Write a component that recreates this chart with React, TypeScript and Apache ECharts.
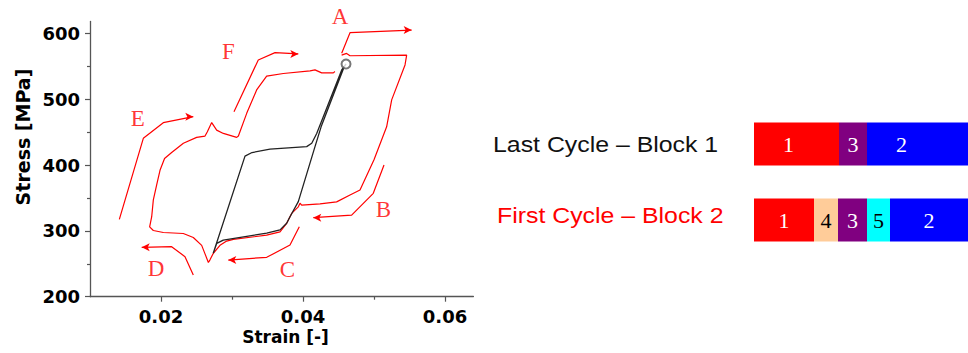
import React, { useEffect, useRef } from 'react';
import * as echarts from 'echarts';

// Axis ranges and tick values
const strainRange = [0.01, 0.064];
const stressRange = [200, 618];
const strainTicks = [0.02, 0.04, 0.06];
const strainMinorTicks = [0.03, 0.05];
const stressTicks = [200, 300, 400, 500, 600];
const stressMinorTicks = [250, 350, 450, 550];

// Last cycle of block 1 (black loop), [strain, stress MPa]
const lastCycle: number[][] = [
  [0.02736, 265.9], [0.03183, 413.5], [0.03282, 419], [0.03535, 424],
  [0.04052, 428], [0.04123, 433], [0.04193, 448], [0.04545, 544.5],
  [0.04606, 553.5], [0.04572, 547], [0.04255, 458], [0.04155, 423],
  [0.03934, 344.5], [0.03817, 321.5], [0.0377, 311.5], [0.03676, 301.5],
  [0.03489, 296.5], [0.02877, 286], [0.02785, 281], [0.02736, 265.9],
];

// First cycle of block 2 (red loop), [strain, stress MPa]
const firstCycle: number[][] = [
  [0.04544, 567], [0.04614, 569.5], [0.04662, 566], [0.0546, 567],
  [0.05437, 552], [0.05249, 499], [0.05178, 458], [0.05, 408],
  [0.04803, 362], [0.04662, 354.5], [0.04474, 344], [0.0424, 341],
  [0.03981, 339], [0.03958, 342], [0.03934, 336.5], [0.0384, 326.5],
  [0.0377, 311.5], [0.03676, 298.5], [0.03488, 293.5], [0.03019, 287],
  [0.02925, 284.5], [0.02831, 278], [0.02737, 266], [0.0269, 256],
  [0.02667, 252], [0.0262, 265], [0.02573, 278], [0.02455, 290],
  [0.02314, 296], [0.02033, 297.5], [0.01892, 300.5], [0.0184, 306],
  [0.01869, 321.5], [0.01892, 347], [0.01939, 370], [0.01986, 392],
  [0.0205, 410], [0.0215, 419], [0.02315, 433], [0.02502, 442],
  [0.0262, 444], [0.02653, 450.5], [0.02714, 464.5], [0.02784, 453],
  [0.02878, 448], [0.03066, 442], [0.0309, 444], [0.03207, 478.5],
  [0.03347, 514], [0.03488, 535], [0.03723, 539], [0.04099, 543],
  [0.04169, 544.5], [0.04263, 540], [0.04427, 540], [0.0445, 542],
];

// Peak of the last cycle
const peakPoint = [0.04606, 553.5];

// Direction arrows along the loading path
const arrowA = [[0.04545, 569.8], [0.04662, 601], [0.0553, 605]];
const arrowB = [[0.05141, 400], [0.0499, 357], [0.04685, 324], [0.04145, 320]];
const arrowC = [[0.03948, 306.3], [0.03817, 278.5], [0.03489, 259.8], [0.02948, 255.7]];
const arrowD = [[0.02455, 233], [0.02338, 260.8], [0.0215, 276], [0.01728, 275]];
const arrowE = [[0.01413, 317.5], [0.01751, 440.6], [0.02032, 464.3], [0.02455, 473.4]];
const arrowF = [[0.03028, 481], [0.0337, 559.6], [0.03606, 570.7], [0.03934, 568.7]];
const arrowPaths = [arrowA, arrowB, arrowC, arrowD, arrowE, arrowF];
const arrowPointsRight = [true, false, false, false, true, true];

// Stage letters
const letterNames = ['A', 'B', 'C', 'D', 'E', 'F'];
const letterStrain = [0.04521, 0.05131, 0.03779, 0.0193, 0.01672, 0.02948];
const letterStress = [625.3, 332.8, 241.6, 243.1, 471, 572.2];

// Block sequences (segment lengths), stacked in this block order
const rowNames = ['Last Cycle – Block 1', 'First Cycle – Block 2'];
const blockIds = ['1', '4', '3', '5', '2'];
const lastCycleBlock1 = [85, 0, 28, 0, 101];
const firstCycleBlock2 = [60, 24, 29, 23, 78];

const blockColors = ['#ff0000', '#ffcc99', '#800080', '#00ffff', '#0000ff'];
const blockTextColors = ['#ffffff', '#000000', '#ffffff', '#000000', '#ffffff'];
const topRowLabelShift = [-8, 0, 0, 0, -16];

const axisColor = '#555';
const tickFont = {
  fontFamily: 'DejaVu Sans',
  fontWeight: 'bold' as const,
  fontSize: 18,
  color: '#000',
};

export default function App() {
  const ref = useRef<HTMLDivElement>(null);

  useEffect(() => {
    if (!ref.current) return;
    const chart = echarts.init(ref.current, undefined, { renderer: 'svg' });

    const series: any[] = [
      {
        type: 'line',
        xAxisIndex: 0,
        yAxisIndex: 0,
        data: firstCycle,
        symbol: 'none',
        lineStyle: { color: '#ff0000', width: 1.2 },
        z: 3,
      },
      {
        type: 'line',
        xAxisIndex: 0,
        yAxisIndex: 0,
        data: lastCycle,
        symbol: 'none',
        lineStyle: { color: '#222', width: 1.3 },
        z: 4,
      },
      ...arrowPaths.map((path, k) => ({
        type: 'line',
        xAxisIndex: 0,
        yAxisIndex: 0,
        symbol: 'none',
        lineStyle: { color: '#ff0000', width: 1.2 },
        itemStyle: { color: '#ff0000' },
        clip: false,
        z: 3,
        data: path.map((p, i) =>
          i === path.length - 1
            ? {
                value: p,
                symbol: 'arrow',
                symbolSize: [6, 8],
                symbolRotate: arrowPointsRight[k] ? -90 : 90,
              }
            : { value: p }
        ),
      })),
      {
        type: 'scatter',
        xAxisIndex: 0,
        yAxisIndex: 0,
        data: [peakPoint],
        symbol: 'emptyCircle',
        symbolSize: 9,
        itemStyle: { color: '#555', borderWidth: 1.4 },
        z: 5,
      },
      {
        type: 'scatter',
        xAxisIndex: 0,
        yAxisIndex: 0,
        clip: false,
        symbolSize: 1,
        itemStyle: { color: 'rgba(0,0,0,0)' },
        data: letterNames.map((n, i) => ({
          name: n,
          value: [letterStrain[i], letterStress[i]],
        })),
        label: {
          show: true,
          position: 'inside',
          formatter: (p: any) => p.name,
          fontFamily: 'Liberation Serif',
          fontSize: 23,
          color: '#ff0000',
        },
        z: 6,
      },
      ...blockIds.map((id, i) => ({
        type: 'bar',
        name: id,
        stack: 'cycle',
        xAxisIndex: 2,
        yAxisIndex: 2,
        barWidth: 43,
        itemStyle: { color: blockColors[i] },
        label: {
          show: true,
          position: 'inside',
          formatter: (p: any) => (p.value > 0 ? id : ''),
          fontFamily: 'Liberation Serif',
          fontSize: 22,
          color: blockTextColors[i],
        },
        data: [
          { value: lastCycleBlock1[i], label: { offset: [topRowLabelShift[i], 0] } },
          { value: firstCycleBlock2[i] },
        ],
      })),
    ];

    chart.setOption({
      animation: false,
      backgroundColor: '#fff',
      grid: [
        { left: 90, top: 21.5, width: 383.4, height: 275.2 },
        { left: 754, right: 0, top: 106, height: 152 },
      ],
      xAxis: [
        {
          type: 'value',
          gridIndex: 0,
          position: 'bottom',
          min: strainRange[0],
          max: strainRange[1],
          axisLine: { show: true, onZero: false, lineStyle: { color: axisColor, width: 1.3 } },
          axisTick: {
            show: true,
            length: 5,
            customValues: strainTicks,
            lineStyle: { color: axisColor, width: 1.2 },
          },
          axisLabel: {
            ...tickFont,
            margin: 11,
            customValues: strainTicks,
            formatter: (v: number) => v.toFixed(2),
          },
          splitLine: { show: false },
        },
        {
          type: 'value',
          gridIndex: 0,
          position: 'bottom',
          min: strainRange[0],
          max: strainRange[1],
          axisLine: { show: false, onZero: false },
          axisTick: {
            show: true,
            length: 3,
            customValues: strainMinorTicks,
            lineStyle: { color: axisColor, width: 1.2 },
          },
          axisLabel: { show: false },
          splitLine: { show: false },
        },
        {
          type: 'value',
          gridIndex: 1,
          min: 0,
          max: 214,
          show: false,
        },
      ],
      yAxis: [
        {
          type: 'value',
          gridIndex: 0,
          position: 'left',
          min: stressRange[0],
          max: stressRange[1],
          interval: 100,
          axisLine: { show: true, onZero: false, lineStyle: { color: axisColor, width: 1.3 } },
          axisTick: {
            show: true,
            length: 5,
            customValues: stressTicks,
            lineStyle: { color: axisColor, width: 1.2 },
          },
          axisLabel: {
            ...tickFont,
            margin: 10,
            customValues: stressTicks,
            formatter: (v: number) => (v % 100 === 0 ? String(v) : ''),
          },
          splitLine: { show: false },
        },
        {
          type: 'value',
          gridIndex: 0,
          position: 'left',
          min: stressRange[0],
          max: stressRange[1],
          axisLine: { show: false, onZero: false },
          axisTick: {
            show: true,
            length: 3,
            customValues: stressMinorTicks,
            lineStyle: { color: axisColor, width: 1.2 },
          },
          axisLabel: { show: false },
          splitLine: { show: false },
        },
        {
          type: 'category',
          gridIndex: 1,
          data: rowNames,
          inverse: true,
          show: false,
        },
      ],
      graphic: [
        {
          type: 'text',
          x: 23,
          y: 137,
          rotation: Math.PI / 2,
          style: {
            text: 'Stress [MPa]',
            fontFamily: 'DejaVu Sans',
            fontWeight: 'bold',
            fontSize: 19,
            fill: '#000',
            align: 'center',
            verticalAlign: 'middle',
            textAlign: 'center',
            textVerticalAlign: 'middle',
          },
        },
        {
          type: 'text',
          x: 285.5,
          y: 337,
          style: {
            text: 'Strain [-]',
            fontFamily: 'DejaVu Sans',
            fontWeight: 'bold',
            fontSize: 17,
            fill: '#000',
            align: 'center',
            verticalAlign: 'middle',
            textAlign: 'center',
            textVerticalAlign: 'middle',
          },
        },
        {
          type: 'text',
          x: 493,
          y: 145,
          scaleX: 1.13,
          style: {
            text: rowNames[0],
            fontFamily: 'Liberation Sans',
            fontSize: 22,
            fill: '#111',
            align: 'left',
            verticalAlign: 'middle',
            textAlign: 'left',
            textVerticalAlign: 'middle',
          },
        },
        {
          type: 'text',
          x: 497,
          y: 216,
          scaleX: 1.13,
          style: {
            text: rowNames[1],
            fontFamily: 'Liberation Sans',
            fontSize: 22,
            fill: '#ff0000',
            align: 'left',
            verticalAlign: 'middle',
            textAlign: 'left',
            textVerticalAlign: 'middle',
          },
        },
      ],
      series,
    });

    return () => chart.dispose();
  }, []);

  return (
    <div
      ref={ref}
      style={{ position: 'absolute', left: 0, top: 0, width: 968, height: 353 }}
    />
  );
}
